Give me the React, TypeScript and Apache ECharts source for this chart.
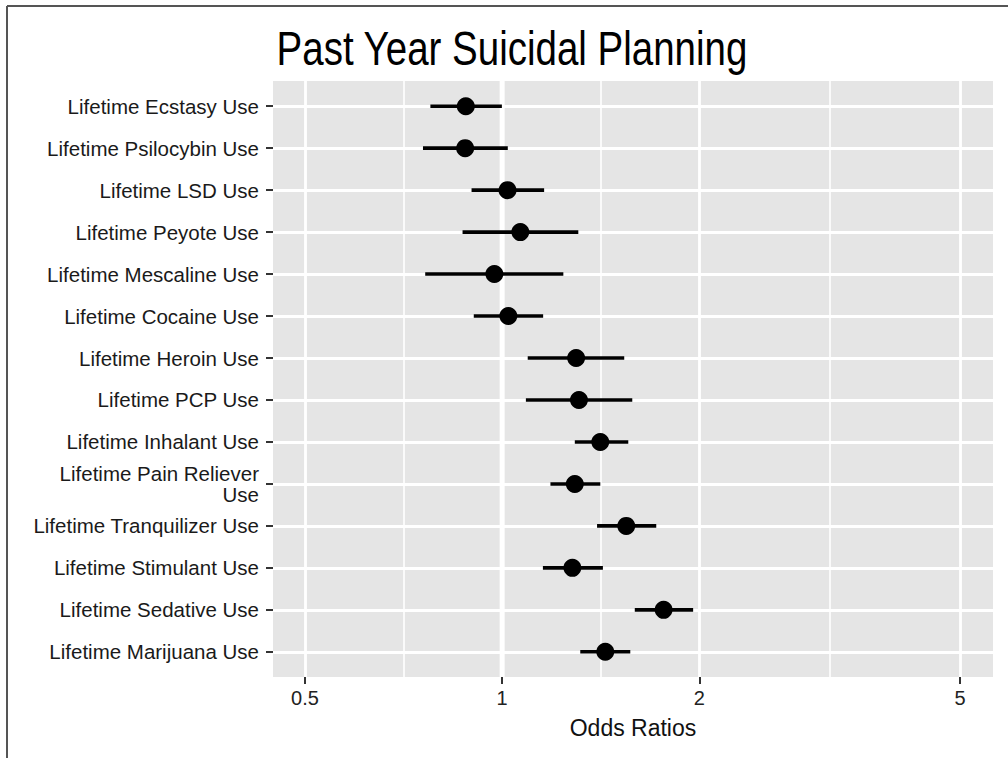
import React, { useEffect, useRef } from "react";
import * as echarts from "echarts";

const chartTitle = "Past Year Suicidal Planning";
const xAxisTitle = "Odds Ratios";
const categories = [
  "Lifetime Ecstasy Use",
  "Lifetime Psilocybin Use",
  "Lifetime LSD Use",
  "Lifetime Peyote Use",
  "Lifetime Mescaline Use",
  "Lifetime Cocaine Use",
  "Lifetime Heroin Use",
  "Lifetime PCP Use",
  "Lifetime Inhalant Use",
  "Lifetime Pain Reliever\nUse",
  "Lifetime Tranquilizer Use",
  "Lifetime Stimulant Use",
  "Lifetime Sedative Use",
  "Lifetime Marijuana Use",
];
const oddsRatios = [0.88, 0.878, 1.019, 1.066, 0.973, 1.022, 1.297, 1.31, 1.412, 1.291, 1.547, 1.28, 1.764, 1.437];
const lowerCI = [0.777, 0.757, 0.898, 0.87, 0.763, 0.905, 1.094, 1.087, 1.291, 1.185, 1.396, 1.154, 1.594, 1.316];
const upperCI = [0.999, 1.02, 1.159, 1.307, 1.24, 1.155, 1.536, 1.58, 1.558, 1.412, 1.719, 1.425, 1.957, 1.569];
const xTicks = [0.5, 1, 2, 5];
const xMinorTicks = [0.7071, 1.4142, 3.1623];
const referenceValue = 1;

const FONT = "'Liberation Sans', Arial, Helvetica, sans-serif";

export default function App() {
  const ref = useRef<HTMLDivElement>(null);
  useEffect(() => {
    if (!ref.current) return;
    const chart = echarts.init(ref.current, null, { renderer: "svg" });
    const catIdx = categories.map((_, i) => i);
    const xMin = 0.4468;
    const xMax = 5.616;
    chart.setOption({
      animation: false,
      backgroundColor: "#ffffff",
      textStyle: { fontFamily: FONT },
      grid: { left: 273, top: 81, width: 720, height: 596, containLabel: false },
      xAxis: [
        {
          type: "log",
          position: "bottom",
          min: xMin,
          max: xMax,
          axisLine: { show: false, onZero: false },
          axisTick: { show: true, customValues: xTicks, length: 7, lineStyle: { color: "#333", width: 2 } },
          axisLabel: {
            customValues: xTicks,
            margin: 11,
            fontSize: 20,
            color: "#222",
            fontFamily: FONT,
            formatter: (v: number) => String(v),
          },
          splitLine: { show: true, lineStyle: { color: "#ffffff", width: 2.8 } },
          minorTick: { show: false },
          minorSplitLine: { show: false },
          name: xAxisTitle,
          nameLocation: "middle",
          nameGap: 39,
          nameTextStyle: { fontSize: 23, color: "#111", fontFamily: FONT },
        },
        {
          type: "log",
          position: "top",
          min: xMin,
          max: xMax,
          axisLine: { show: false, onZero: false },
          axisTick: { show: false, customValues: xMinorTicks },
          axisLabel: { show: false, customValues: xMinorTicks },
          splitLine: { show: true, lineStyle: { color: "#ffffff", width: 1.6 } },
          minorTick: { show: false },
          minorSplitLine: { show: false },
        },
      ],
      yAxis: {
        type: "value",
        inverse: true,
        min: -0.6,
        max: 13.6,
        axisLine: { show: false, onZero: false },
        axisTick: { show: true, customValues: catIdx, length: 7, lineStyle: { color: "#333", width: 2 } },
        axisLabel: {
          customValues: catIdx,
          margin: 14,
          fontSize: 20.5,
          lineHeight: 21,
          color: "#1a1a1a",
          fontFamily: FONT,
          align: "right",
          formatter: (v: number) => categories[Math.round(v)] ?? "",
        },
        splitLine: { show: true, lineStyle: { color: "#ffffff", width: 2.8 } },
      },
      graphic: [
        {
          type: "rect",
          z: -10,
          silent: true,
          shape: { x: 273, y: 81, width: 720, height: 596 },
          style: { fill: "#e5e5e5" },
        },
        {
          type: "line",
          silent: true,
          shape: { x1: 7, y1: 6, x2: 1008, y2: 6 },
          style: { stroke: "#555", lineWidth: 2 },
        },
        {
          type: "line",
          silent: true,
          shape: { x1: 7, y1: 6, x2: 7, y2: 758 },
          style: { stroke: "#555", lineWidth: 2 },
        },
        {
          type: "text",
          x: 512,
          y: 47.5,
          scaleY: 1.26,
          style: {
            text: chartTitle,
            fontSize: 38.5,
            fontFamily: FONT,
            fill: "#000",
            align: "center",
            verticalAlign: "middle",
            textAlign: "center",
            textVerticalAlign: "middle",
          },
        },
      ],
      series: [
        {
          type: "custom",
          xAxisIndex: 0,
          z: 1,
          silent: true,
          data: [[referenceValue]],
          encode: { x: 0 },
          renderItem: (params: any, api: any) => {
            const cs = params.coordSys;
            const x = api.coord([api.value(0), 0])[0];
            return {
              type: "line",
              shape: { x1: x, y1: cs.y, x2: x, y2: cs.y + cs.height },
              style: { stroke: "#ffffff", lineWidth: 5 },
            };
          },
        },
        {
          type: "custom",
          xAxisIndex: 0,
          z: 3,
          data: catIdx.map((i) => [i, lowerCI[i], upperCI[i]]),
          encode: { x: [1, 2], y: 0 },
          renderItem: (params: any, api: any) => {
            const y = api.value(0);
            const p1 = api.coord([api.value(1), y]);
            const p2 = api.coord([api.value(2), y]);
            return {
              type: "line",
              shape: { x1: p1[0], y1: p1[1], x2: p2[0], y2: p2[1] },
              style: { stroke: "#000", lineWidth: 3.6 },
            };
          },
        },
        {
          type: "scatter",
          xAxisIndex: 0,
          z: 4,
          symbol: "circle",
          symbolSize: 18,
          itemStyle: { color: "#000", opacity: 1 },
          data: catIdx.map((i) => [oddsRatios[i], i]),
        },
      ],
    });
    return () => chart.dispose();
  }, []);
  return (
    <div
      ref={ref}
      style={{ position: "fixed", left: 0, top: 0, width: 1008, height: 758, background: "#fff" }}
    />
  );
}
